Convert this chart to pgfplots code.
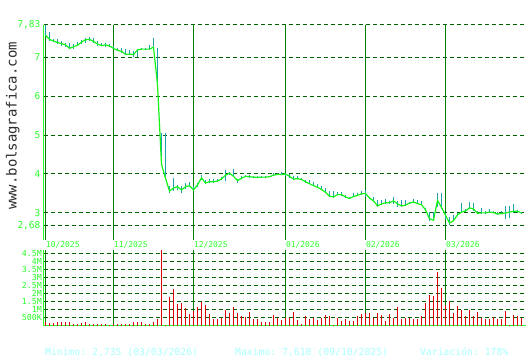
\documentclass[border=0pt]{standalone}
\usepackage{fontspec}
\setmonofont{DejaVu Sans Mono}
\usepackage{pgfplots}
\pgfplotsset{compat=1.18}
\usepackage{pgfplotstable}
\definecolor{brgreen}{RGB}{40,255,40}
\definecolor{lngreen}{RGB}{20,245,20}
\definecolor{gridg}{RGB}{0,100,0}
\definecolor{monthg}{RGB}{0,130,0}
\definecolor{tealb}{RGB}{30,160,175}
\definecolor{volred}{RGB}{220,0,0}
\definecolor{statc}{RGB}{170,255,255}
\definecolor{wm}{RGB}{45,45,45}

\pgfplotstableread{
i c h l
0 7.57 7.83 7.55
1 7.46 7.66 7.42
2 7.42 7.48 7.40
3 7.38 7.46 7.33
4 7.35 7.41 7.30
5 7.32 7.37 7.27
6 7.23 7.36 7.21
7 7.27 7.35 7.22
8 7.31 7.40 7.28
9 7.39 7.44 7.33
10 7.45 7.49 7.38
11 7.46 7.52 7.42
12 7.41 7.50 7.38
13 7.34 7.42 7.30
14 7.30 7.37 7.28
15 7.32 7.36 7.27
16 7.29 7.35 7.26
17 7.23 7.30 7.21
18 7.18 7.24 7.15
19 7.15 7.25 7.12
20 7.08 7.22 7.05
21 7.08 7.20 7.06
22 7.07 7.16 7.00
23 7.19 7.22 7.02
24 7.21 7.24 7.18
25 7.21 7.23 7.19
26 7.21 7.32 7.20
27 7.26 7.50 7.20
28 6.30 7.23 6.20
29 4.25 5.05 4.20
30 3.89 5.05 3.86
31 3.56 3.70 3.50
32 3.64 3.89 3.55
33 3.67 3.72 3.60
34 3.59 3.70 3.52
35 3.67 3.76 3.62
36 3.70 3.80 3.68
37 3.59 3.70 3.57
38 3.72 3.77 3.66
39 3.90 3.97 3.85
40 3.77 3.85 3.75
41 3.80 3.86 3.78
42 3.80 3.87 3.78
43 3.82 3.86 3.80
44 3.87 3.92 3.85
45 3.97 4.10 3.82
46 4.02 4.06 3.98
47 3.94 4.13 3.92
48 3.83 3.88 3.78
49 3.89 3.95 3.86
50 3.94 3.98 3.92
51 3.93 3.97 3.90
52 3.92 3.95 3.90
53 3.91 3.95 3.89
54 3.92 3.95 3.90
55 3.92 3.94 3.90
56 3.93 3.96 3.91
57 3.97 4.02 3.95
58 3.99 4.03 3.97
59 3.99 4.05 3.97
60 4.00 4.03 3.96
61 3.94 4.00 3.90
62 3.87 3.96 3.85
63 3.88 3.94 3.86
64 3.86 3.90 3.84
65 3.80 3.85 3.78
66 3.75 3.85 3.73
67 3.70 3.80 3.68
68 3.66 3.74 3.64
69 3.60 3.70 3.58
70 3.53 3.63 3.51
71 3.43 3.55 3.40
72 3.41 3.55 3.39
73 3.47 3.54 3.45
74 3.47 3.54 3.44
75 3.41 3.46 3.38
76 3.37 3.42 3.35
77 3.42 3.50 3.40
78 3.45 3.52 3.43
79 3.49 3.56 3.46
80 3.50 3.58 3.40
81 3.38 3.42 3.35
82 3.31 3.42 3.28
83 3.18 3.34 3.15
84 3.23 3.34 3.20
85 3.26 3.36 3.24
86 3.26 3.30 3.24
87 3.31 3.41 3.22
88 3.23 3.30 3.15
89 3.18 3.32 3.16
90 3.20 3.32 3.18
91 3.25 3.29 3.22
92 3.28 3.36 3.25
93 3.24 3.33 3.22
94 3.21 3.30 3.19
95 3.08 3.12 3.05
96 2.85 3.02 2.79
97 2.81 3.02 2.78
98 3.32 3.50 3.15
99 3.14 3.51 3.11
100 2.94 3.00 2.85
101 2.74 2.89 2.68
102 2.80 2.95 2.78
103 2.95 3.00 2.92
104 3.02 3.25 3.00
105 3.05 3.10 3.02
106 3.13 3.27 3.10
107 3.10 3.25 3.05
108 2.99 3.05 2.96
109 3.00 3.12 2.97
110 3.00 3.04 2.98
111 3.02 3.10 3.00
112 3.01 3.06 2.99
113 2.97 3.02 2.95
114 2.98 3.04 2.96
115 3.00 3.17 2.85
116 3.02 3.17 2.88
117 3.04 3.22 3.00
118 3.04 3.08 3.00
119 3.00 3.02 2.98
}\pricedata

\pgfplotstableread{
i v
0 0.21
1 0.15
2 0.15
3 0.25
4 0.19
5 0.19
6 0.19
7 0.12
8 0.12
9 0.15
10 0.25
11 0.12
12 0.12
13 0.08
14 0.12
15 0.12
16 0.04
17 0.12
18 0.12
19 0.12
20 0.12
21 0.12
22 0.19
23 0.19
24 0.19
25 0.12
26 0.12
27 0.25
28 0.38
29 4.69
30 0.03
31 1.80
32 2.27
33 1.33
34 1.40
35 1.08
36 0.71
37 0.92
38 1.15
39 1.46
40 1.27
41 0.71
42 0.40
43 0.40
44 0.48
45 0.96
46 0.77
47 1.15
48 0.77
49 0.58
50 0.53
51 0.83
52 0.40
53 0.40
54 0.21
55 0.21
56 0.21
57 0.65
58 0.46
59 0.33
60 0.46
61 0.46
62 0.83
63 0.33
64 0.08
65 0.58
66 0.40
67 0.46
68 0.33
69 0.46
70 0.65
71 0.58
72 0.02
73 0.46
74 0.27
75 0.40
76 0.27
77 0.27
78 0.58
79 0.71
80 0.77
81 0.77
82 0.46
83 0.77
84 0.65
85 0.27
86 0.71
87 0.46
88 1.15
89 0.40
90 0.46
91 0.46
92 0.40
93 0.40
94 0.58
95 1.40
96 1.90
97 1.83
98 3.33
99 2.33
100 1.30
101 1.52
102 0.77
103 1.21
104 1.00
105 0.58
106 0.96
107 0.58
108 0.83
109 0.46
110 0.40
111 0.40
112 0.52
113 0.40
114 0.40
115 0.90
116 0.02
117 0.65
118 0.58
119 0.46
}\voldata

\begin{document}
\begin{tikzpicture}[x=1bp,y=1bp]
\path[fill=white] (0,0) rectangle (530,360);

\begin{axis}[
  at={(43.5bp,120bp)}, anchor=south west, scale only axis,
  width=482bp, height=215bp,
  xmin=-0.5, xmax=120, ymin=2.303, ymax=7.83,
  axis y line*=left, axis x line*=bottom,
  x axis line style={draw=none},
  y axis line style={-, draw=brgreen, line width=1.2bp},
  xtick={0,17,37,60,80,100},
  xticklabels={10/2025,11/2025,12/2025,01/2026,02/2026,03/2026},
  ytick={2.68,3,4,5,6,7,7.83},
  yticklabels={{2,68},3,4,5,6,7,{7,83}},
  major tick length=0pt,
  xmajorgrids, ymajorgrids,
  major grid style={line width=1bp},
  x grid style={draw=monthg, solid, line width=1bp},
  y grid style={draw=gridg, dash pattern=on 4bp off 3bp},
  tick label style={text=brgreen},
  xticklabel style={font=\fontsize{8}{8}\selectfont\ttfamily, anchor=north west, inner sep=0pt, yshift=-1.5bp, xshift=0.3bp},
  yticklabel style={font=\fontsize{9.5}{9.5}\selectfont\ttfamily, anchor=east, inner sep=0pt, xshift=-3bp},
]
\addplot[draw=none, mark=none, forget plot,
  error bars/.cd, y dir=plus, y explicit, error mark=none,
  error bar style={draw=tealb, line width=1bp, solid}]
  table[x=i, y=l, y error plus expr={\thisrow{h}-\thisrow{l}}] {\pricedata};
\addplot[draw=lngreen, line width=1.2bp, mark=none] table[x=i, y=c] {\pricedata};
\end{axis}

\begin{axis}[
  at={(43.5bp,34.5bp)}, anchor=south west, scale only axis,
  width=482bp, height=75.5bp,
  xmin=-0.5, xmax=120, ymin=0, ymax=4.72,
  axis y line*=left, axis x line*=bottom,
  axis line style={-, draw=brgreen, line width=1.3bp},
  xtick={0,17,37,60,80,100}, xticklabels={},
  ytick={0.5,1,1.5,2,2.5,3,3.5,4,4.5},
  yticklabels={500K,1M,1.5M,2M,2.5M,3M,3.5M,4M,4.5M},
  major tick length=0pt,
  xmajorgrids, ymajorgrids,
  major grid style={line width=1bp},
  x grid style={draw=monthg, solid, line width=1bp},
  y grid style={draw=gridg, dash pattern=on 4bp off 3bp},
  tick label style={text=brgreen},
  yticklabel style={font=\fontsize{8.3}{8.3}\selectfont\ttfamily, anchor=east, inner sep=0pt, xshift=-1.5bp},
]
\addplot[ycomb, draw=volred, line width=1bp, mark=none] table[x=i, y=v] {\voldata};
\end{axis}

\node[rotate=90, anchor=base, text=wm, font=\fontsize{14}{14}\selectfont\ttfamily] at (16.5,234) {www.bolsagrafica.com};

\begin{scope}[every node/.style={anchor=base west, inner sep=0pt, text=statc, font=\fontsize{9.8}{9.8}\selectfont\ttfamily}]
\node at (45,5) {Mínimo: 2,735 (03/03/2026)};
\node at (235,5) {Maximo: 7,610 (09/10/2025)};
\node at (420,5) {Variación: 178\%};
\end{scope}
\end{tikzpicture}
\end{document}
